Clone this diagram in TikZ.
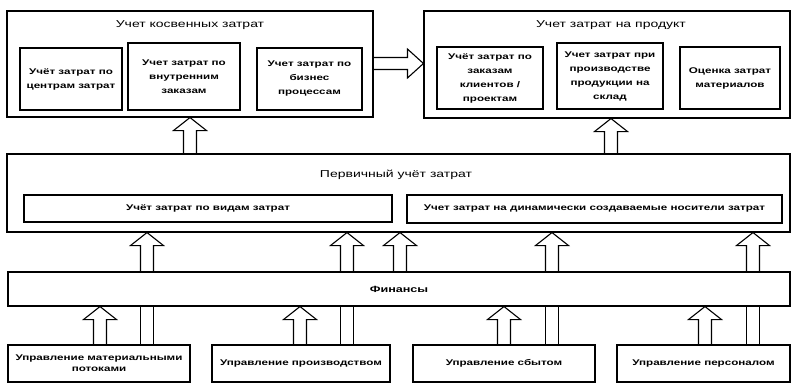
\documentclass[tikz,border=0pt]{standalone}
\usepackage{fontspec}
\setmainfont{Liberation Sans}[FakeStretch=1.4]
\usetikzlibrary{calc}
\newcommand\blockup[3]{%
  \draw[barrow] let \p1=(#2.north), \p2=(#3.south) in
    (#1pt-6.5pt,\y1) -- (#1pt-6.5pt,\y2-13pt) -- (#1pt-16.5pt,\y2-13pt) -- (#1pt,\y2)
    -- (#1pt+16.5pt,\y2-13pt) -- (#1pt+6.5pt,\y2-13pt) -- (#1pt+6.5pt,\y1);}
\newcommand\twolines[3]{%
  \draw[barrow] let \p1=(#2.north), \p2=(#3.south) in
    (#1pt-6.5pt,\y1) -- (#1pt-6.5pt,\y2) (#1pt+6.5pt,\y1) -- (#1pt+6.5pt,\y2);}
\begin{document}
\begin{tikzpicture}[x=1pt,y=-1pt,
  box/.style={draw, line width=1.1pt, inner sep=1pt, align=center},
  inner/.style={box, font=\bfseries\fontsize{8.3}{14}\selectfont},
  ttl/.style={font=\fontsize{10}{12}\selectfont, inner sep=0pt},
  btxt/.style={font=\bfseries\fontsize{8.3}{11}\selectfont, align=center, inner sep=0pt},
  barrow/.style={line width=1.1pt, line join=miter}]
\useasboundingbox (0,0) rectangle (792,383);
% top left
\node[box, minimum width=366pt, minimum height=106pt] (ind) at (190,64) {};
\node[ttl] (indt) at (190,25) {Учет косвенных затрат};
\node[inner, minimum width=102pt, minimum height=62pt] (i1) at (71,79) {Учёт затрат по\\центрам затрат};
\node[inner, minimum width=112pt, minimum height=67pt] (i2) at (184,76.5) {Учет затрат по\\внутренним\\заказам};
\node[inner, minimum width=105pt, minimum height=62pt] (i3) at (309.5,79) {Учет затрат по\\бизнес\\процессам};
% top right
\node[box, minimum width=366pt, minimum height=107pt] (prod) at (607,64.5) {};
\node[ttl] (prodt) at (611,25) {Учет затрат на продукт};
\node[inner, minimum width=106pt, minimum height=62pt] (p1) at (490,78) {Учёт затрат по\\заказам\\клиентов /\\проектам};
\node[inner, minimum width=106pt, minimum height=66pt] (p2) at (610,76) {Учет затрат при\\производстве\\продукции на\\склад};
\node[inner, minimum width=100pt, minimum height=62pt] (p3) at (730,78) {Оценка затрат\\материалов};
% middle
\node[box, minimum width=783pt, minimum height=78pt] (prim) at (398.5,193) {};
\node[ttl] (primt) at (396,175) {Первичный учёт затрат};
\node[inner, minimum width=368pt, minimum height=27pt] (m1) at (208,208.5) {Учёт затрат по видам затрат};
\node[inner, minimum width=375pt, minimum height=28pt] (m2) at (594.5,209) {Учет затрат на динамически создаваемые носители затрат};
% finance
\node[box, minimum width=782pt, minimum height=34pt, font=\bfseries\fontsize{9}{10}\selectfont] (fin) at (399,289) {Финансы};
% bottom
\node[box, minimum width=182pt, minimum height=37pt] (b1) at (99,363.5) {};
\node[btxt] at (b1) {Управление материальными\\потоками};
\node[box, minimum width=178pt, minimum height=37pt] (b2) at (301,363.5) {};
\node[btxt] at (b2) {Управление производством};
\node[box, minimum width=182pt, minimum height=37pt] (b3) at (504,363.5) {};
\node[btxt] at (b3) {Управление сбытом};
\node[box, minimum width=173pt, minimum height=37pt] (b4) at (703.5,363.5) {};
\node[btxt] at (b4) {Управление персоналом};
% horizontal block arrow
\draw[barrow] let \p1=(ind.east), \p2=(prod.west) in
  (\x1,-57.5pt) -- (\x2-16pt,-57.5pt) -- (\x2-16pt,-49pt) -- (\x2,-63.5pt)
  -- (\x2-16pt,-78pt) -- (\x2-16pt,-69.5pt) -- (\x1,-69.5pt);
% vertical block arrows
\blockup{190}{prim}{ind}
\blockup{611}{prim}{prod}
\blockup{147}{fin}{prim}
\blockup{347}{fin}{prim}
\blockup{400}{fin}{prim}
\blockup{552}{fin}{prim}
\blockup{753}{fin}{prim}
\blockup{100}{b1}{fin}
\blockup{300}{b2}{fin}
\blockup{504}{b3}{fin}
\blockup{705}{b4}{fin}
\twolines{147}{b1}{fin}
\twolines{347}{b2}{fin}
\twolines{552}{b3}{fin}
\twolines{753}{b4}{fin}
\end{tikzpicture}
\end{document}
